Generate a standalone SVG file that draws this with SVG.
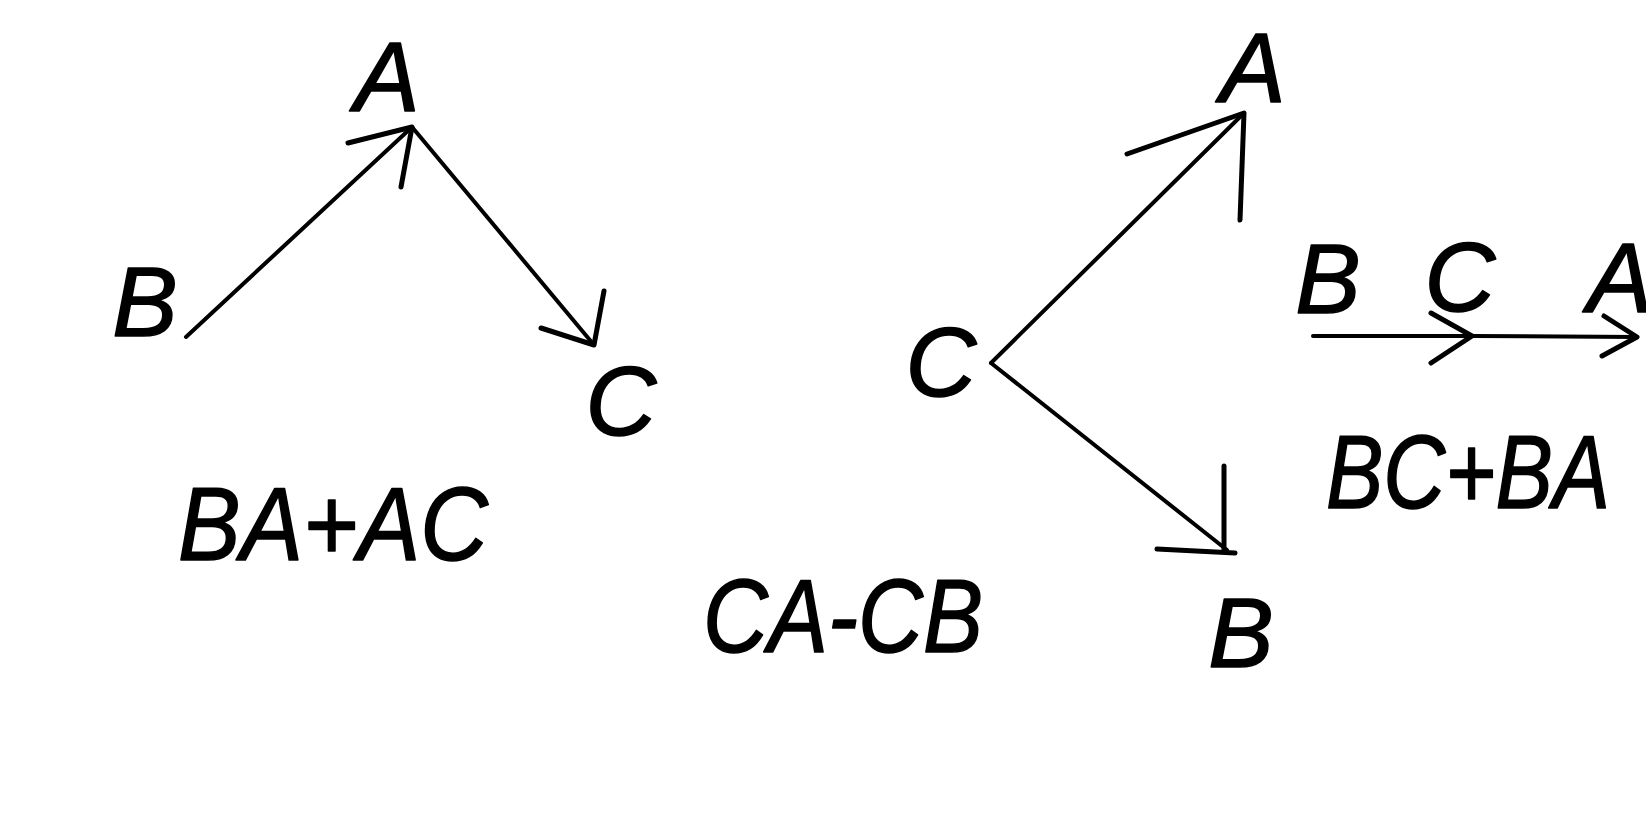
<svg xmlns="http://www.w3.org/2000/svg" width="1646" height="814" viewBox="0 0 1646 814">
<style>
.bg{fill:#fff}
.lbl{font-family:"Liberation Sans","DejaVu Sans",sans-serif;font-style:italic;font-size:98px;fill:#000;stroke:#000;stroke-width:1.5;stroke-linejoin:round;text-anchor:middle}
.f{font-family:"Liberation Sans","DejaVu Sans",sans-serif;font-style:italic;font-size:104px;fill:#000;stroke:#000;stroke-width:1.5;stroke-linejoin:round}
.ln{stroke:#000;stroke-width:4;fill:none;stroke-linecap:round;stroke-linejoin:round}
.hd{stroke:#000;stroke-width:5;fill:none;stroke-linecap:round;stroke-linejoin:round}
</style>
<rect class="bg" x="0" y="0" width="1646" height="814"/>
<g id="connectors">
  <!-- B -> A (left) -->
  <line class="ln" x1="186" y1="337" x2="412" y2="127"/>
  <polyline class="hd" points="348,143 412,127 401,187"/>
  <!-- A -> C (left) -->
  <line class="ln" x1="412" y1="127" x2="594" y2="345"/>
  <polyline class="hd" points="541,328 594,345 604,291"/>
  <!-- C -> A (middle) -->
  <line class="ln" x1="991" y1="363" x2="1244" y2="113"/>
  <polyline class="hd" points="1127,154 1244,113 1240,220"/>
  <!-- C -> B (middle) -->
  <line class="ln" x1="991" y1="363" x2="1227" y2="550"/>
  <polyline class="hd" points="1224,466 1224,550"/>
  <polyline class="hd" points="1157,549 1235,553"/>
  <!-- B -> C -> A (right) -->
  <line class="ln" x1="1313" y1="336" x2="1472" y2="336"/>
  <polyline class="hd" points="1431,313 1472,336 1431,363"/>
  <line class="ln" x1="1472" y1="336" x2="1637" y2="337"/>
  <polyline class="hd" points="1604,316 1637,337 1602,356"/>
</g>
<g id="left-A"><text class="lbl" x="387" y="111">A</text></g>
<g id="left-B"><text class="lbl" x="145" y="336">B</text></g>
<g id="left-C"><text class="lbl" x="621" y="435">C</text></g>
<g id="formula-BA-AC"><text class="f" x="178" y="560" textLength="310" lengthAdjust="spacingAndGlyphs">BA+AC</text></g>
<g id="mid-A"><text class="lbl" x="1253" y="102">A</text></g>
<g id="mid-C"><text class="lbl" x="941" y="396">C</text></g>
<g id="mid-B"><text class="lbl" x="1241" y="667">B</text></g>
<g id="formula-CA-CB"><text class="f" x="703" y="652" textLength="280" lengthAdjust="spacingAndGlyphs">CA-CB</text></g>
<g id="right-B"><text class="lbl" x="1328" y="313">B</text></g>
<g id="right-C"><text class="lbl" x="1460" y="311">C</text></g>
<g id="right-A"><text class="lbl" x="1620" y="312">A</text></g>
<g id="formula-BC-BA"><text class="f" x="1326" y="508" textLength="284" lengthAdjust="spacingAndGlyphs">BC+BA</text></g>
</svg>
